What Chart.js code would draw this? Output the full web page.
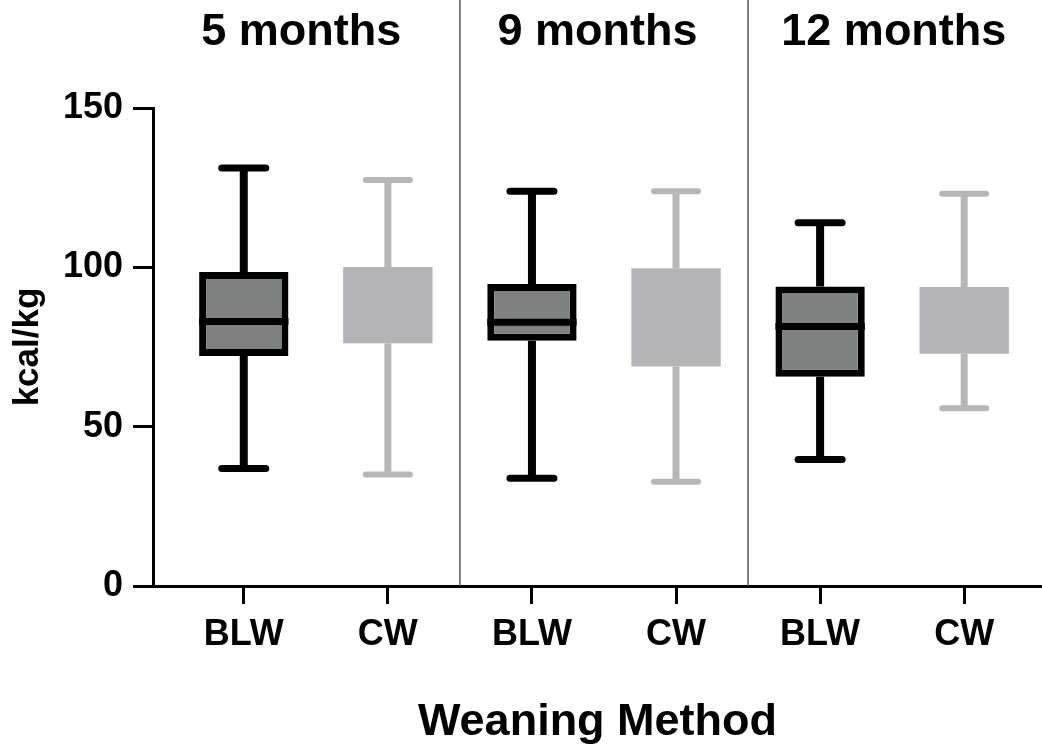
<!DOCTYPE html>
<html>
<head>
<meta charset="utf-8">
<script src="https://cdn.jsdelivr.net/npm/chart.js@4.4.1/dist/chart.umd.min.js"></script>
<style>
    html, body { margin: 0; padding: 0; background: #fff; }
    #wrap { width: 1042px; height: 747px; }
</style>
</head>
<body>
<div id="wrap"><canvas id="grafico_kcal"></canvas></div>
<script>
const ages = ['5 months', '9 months', '12 months'];
const methods = ['BLW', 'CW'];

// BLW boxes (kcal/kg)
const blwMax = [131.2, 123.9, 114.0];
const blwQ3 = [98.5, 94.8, 94.0];
const blwMedian = [83.0, 82.8, 81.4];
const blwQ1 = [72.2, 77.0, 65.7];
const blwMin = [36.9, 33.8, 39.7];

// CW boxes (median line is the same colour as the box, not visible)
const cwMax = [127.4, 123.9, 123.1];
const cwQ3 = [100.1, 99.7, 93.8];
const cwQ1 = [76.2, 68.9, 72.9];
const cwMin = [35.0, 32.7, 55.8];

const yTicks = [0, 50, 100, 150];

const estilos = {
    BLW: { fill: '#7f8080', border: '#000000', borderWidth: 7, line: '#000000', whisker: 8, cap: 7 },
    CW: { fill: '#b4b4b6', border: '#b4b4b6', borderWidth: 0, line: '#b7b7b7', whisker: 7, cap: 6 }
};

// one slot per box: BLW, CW, BLW, CW, ...
const labels = [];
const caixas = [];
const stats = [];
ages.forEach((age, i) => {
    methods.forEach(m => labels.push(m));
    caixas.push({ x: labels.length - 2, y: [blwQ1[i], blwQ3[i]] });
    caixas.push({ x: labels.length - 1, y: [cwQ1[i], cwQ3[i]] });
    stats.push({ method: 'BLW', min: blwMin[i], q1: blwQ1[i], median: blwMedian[i], q3: blwQ3[i], max: blwMax[i] });
    stats.push({ method: 'CW', min: cwMin[i], q1: cwQ1[i], median: null, q3: cwQ3[i], max: cwMax[i] });
});

const fonte = 'Liberation Sans, Arial, Helvetica, sans-serif';

const boxPlot = {
    id: 'boxPlot',
    beforeDatasetsDraw(chart) {
        const ctx = chart.ctx;
        const x = chart.scales.x;
        const y = chart.scales.y;
        const meta = chart.getDatasetMeta(0);
        ctx.save();
        // separators between the age groups
        ctx.strokeStyle = '#555555';
        ctx.lineWidth = 1.5;
        for (let i = 1; i < ages.length; i++) {
            const px = x.getPixelForValue(i * methods.length - 0.5);
            ctx.beginPath();
            ctx.moveTo(px, 0);
            ctx.lineTo(px, chart.chartArea.bottom);
            ctx.stroke();
        }
        // whiskers + caps
        meta.data.forEach((bar, i) => {
            const s = stats[i];
            const st = estilos[s.method];
            ctx.strokeStyle = st.line;
            ctx.lineWidth = st.whisker;
            ctx.lineCap = 'butt';
            ctx.beginPath();
            ctx.moveTo(bar.x, y.getPixelForValue(s.max));
            ctx.lineTo(bar.x, y.getPixelForValue(s.q3));
            ctx.moveTo(bar.x, y.getPixelForValue(s.q1));
            ctx.lineTo(bar.x, y.getPixelForValue(s.min));
            ctx.stroke();
            ctx.lineWidth = st.cap;
            ctx.lineCap = 'round';
            ctx.beginPath();
            [s.max, s.min].forEach(v => {
                const py = y.getPixelForValue(v);
                ctx.moveTo(bar.x - 22, py);
                ctx.lineTo(bar.x + 22, py);
            });
            ctx.stroke();
        });
        ctx.restore();
    },
    afterDatasetsDraw(chart) {
        const ctx = chart.ctx;
        const y = chart.scales.y;
        const meta = chart.getDatasetMeta(0);
        ctx.save();
        meta.data.forEach((bar, i) => {
            const s = stats[i];
            if (s.median === null) return;
            const st = estilos[s.method];
            const py = y.getPixelForValue(s.median);
            ctx.strokeStyle = st.line;
            ctx.lineWidth = 7;
            ctx.beginPath();
            ctx.moveTo(bar.x - bar.width / 2, py);
            ctx.lineTo(bar.x + bar.width / 2, py);
            ctx.stroke();
        });
        ctx.restore();
    }
};

const divKcal = document.getElementById('grafico_kcal').getContext('2d');

const graficoKcal = new Chart(divKcal, {
    type: 'bar',
    data: {
        datasets: [
            {
                label: 'kcal/kg',
                data: caixas,
                xAxisID: 'x',
                backgroundColor: stats.map(s => estilos[s.method].fill),
                borderColor: stats.map(s => estilos[s.method].border),
                borderWidth: stats.map(s => estilos[s.method].borderWidth),
                borderSkipped: false,
                barPercentage: 0.62,
                categoryPercentage: 1,
            }
        ]
    },
    options: {
        responsive: true,
        maintainAspectRatio: false,
        animation: false,
        layout: {
            padding: { top: 0, left: 7, right: 0, bottom: 0 }
        },
        plugins: {
            legend: { display: false },
            tooltip: { enabled: false }
        },
        scales: {
            x: {
                type: 'linear',
                position: 'bottom',
                offset: false,
                min: -0.63,
                max: 5.54,
                afterBuildTicks: (axis) => { axis.ticks = labels.map((l, i) => ({ value: i })); },
                afterFit: (scale) => { scale.height = 161; },
                grid: { drawOnChartArea: false, offset: false, tickLength: 18, tickWidth: 3, tickColor: '#000' },
                border: { color: '#000', width: 3 },
                ticks: {
                    color: '#000',
                    padding: 9,
                    font: { family: fonte, size: 36, weight: 'bold' },
                    callback: (value) => labels[value]
                },
                title: {
                    display: true,
                    text: 'Weaning Method',
                    color: '#000',
                    font: { family: fonte, size: 45, weight: 'bold', lineHeight: 1.07 },
                    padding: { top: 0, bottom: 0 }
                }
            },
            x2: {
                type: 'category',
                position: 'top',
                labels: ages,
                offset: true,
                afterFit: (scale) => {
                    scale.height = 108;
                    scale.paddingLeft = 0;
                    scale.paddingRight = 0;
                },
                grid: { display: false, drawTicks: false },
                border: { display: false },
                ticks: { color: '#000', padding: 48, font: { family: fonte, size: 45, weight: 'bold' } }
            },
            y: {
                position: 'left',
                min: 0,
                max: 150,
                afterBuildTicks: (axis) => { axis.ticks = yTicks.map(v => ({ value: v })); },
                afterFit: (scale) => { scale.width = 146; },
                grid: { drawOnChartArea: false, tickLength: 20, tickWidth: 3, tickColor: '#000' },
                border: { color: '#000', width: 3 },
                ticks: { color: '#000', padding: 10, font: { family: fonte, size: 36, weight: 'bold' } },
                title: {
                    display: true,
                    text: 'kcal/kg',
                    color: '#000',
                    font: { family: fonte, size: 35, weight: 'bold' },
                    padding: { top: 0, bottom: 0 }
                }
            }
        }
    },
    plugins: [boxPlot]
});
</script>
</body>
</html>
